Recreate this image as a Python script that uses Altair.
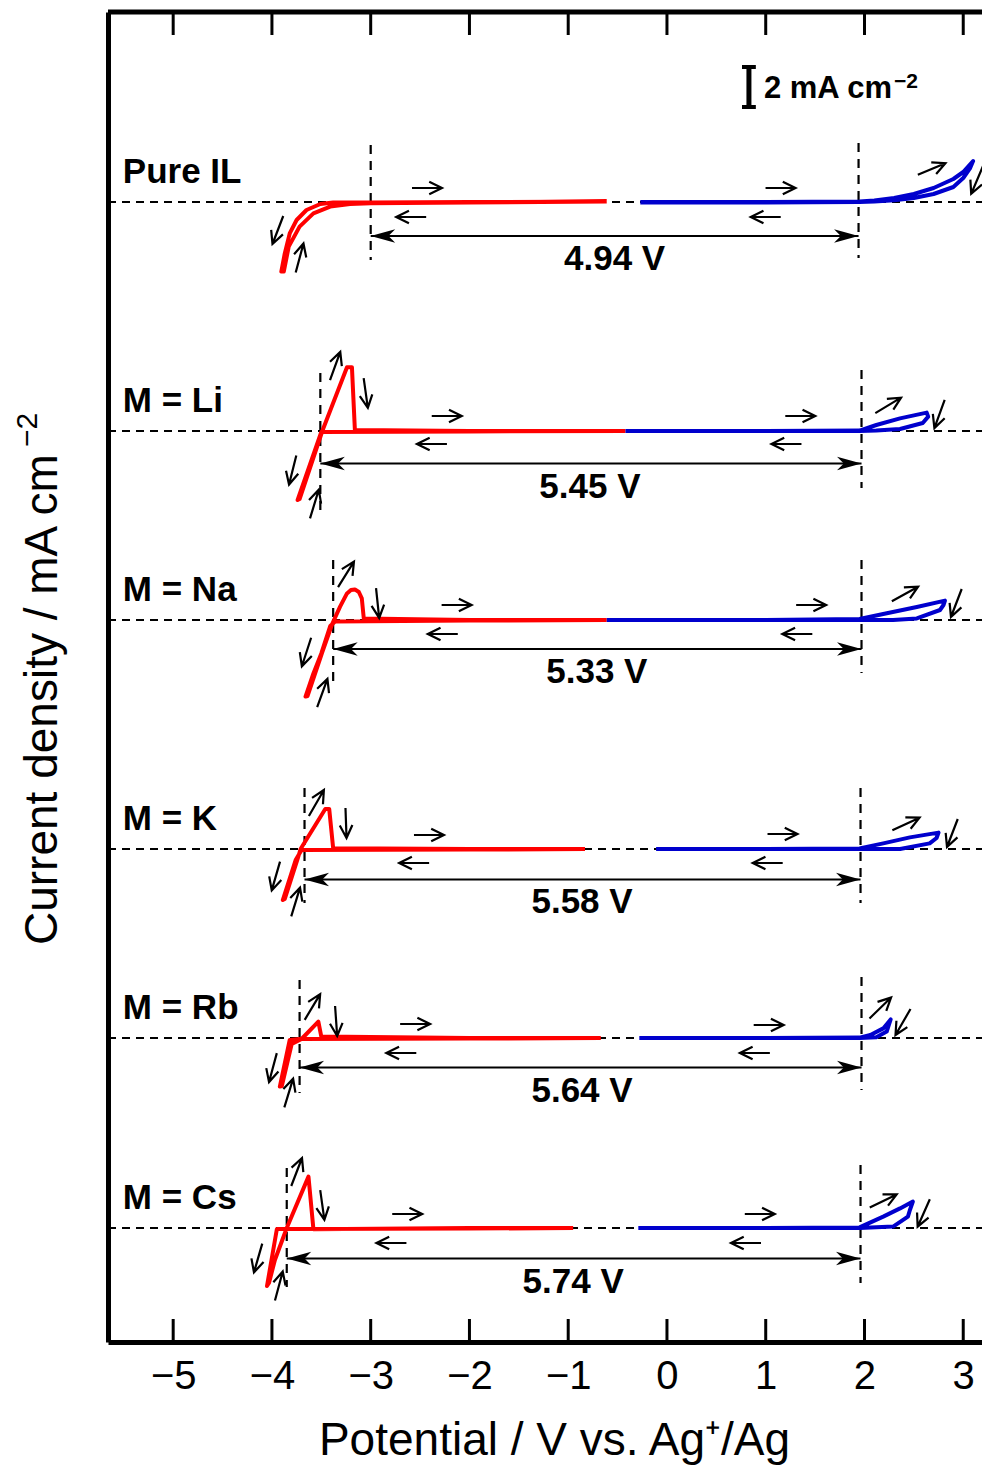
import altair as alt
import pandas as pd

# ---------------- data ----------------
x_ticks = [-5, -4, -3, -2, -1, 0, 1, 2, 3]
x_domain = [-5.66, 3.19]
y_domain = [0, 66.5]

samples = ["Pure IL", "M = Li", "M = Na", "M = K", "M = Rb", "M = Cs"]
baselines = [57.0, 45.55, 36.1, 24.65, 15.2, 5.7]          # vertical offset of each trace (mA cm-2)
windows = ["4.94 V", "5.45 V", "5.33 V", "5.58 V", "5.64 V", "5.74 V"]

# cathodic (red) and anodic (blue) scans: potential / V, current density / mA cm-2
pure_red_v = [-0.61, -2.0, -3.0, -3.38, -3.51, -3.65, -3.75, -3.82, -3.87, -3.905,
              -3.88, -3.83, -3.72, -3.58, -3.41, -3.21, -3.0, -2.0, -0.61]
pure_red_j = [0.02, 0.0, -0.02, -0.02, -0.10, -0.40, -0.90, -1.57, -2.57, -3.48,
              -3.48, -2.23, -1.23, -0.57, -0.23, -0.10, -0.06, -0.03, 0.02]
pure_blue_v = [-0.27, 1.0, 1.95, 2.10, 2.30, 2.50, 2.70, 2.90, 3.00, 3.10,
               3.07, 3.00, 2.90, 2.70, 2.50, 2.30, 2.10, 1.95, 1.0, -0.27]
pure_blue_j = [0.0, 0.0, 0.02, 0.08, 0.20, 0.40, 0.70, 1.15, 1.50, 2.05,
               1.70, 1.20, 0.75, 0.40, 0.20, 0.09, 0.03, 0.0, -0.02, -0.02]

li_red_v = [-0.42, -2.0, -3.50, -3.74, -3.72, -3.49, -3.24, -3.19, -3.16, -2.0, -0.42]
li_red_j = [0.0, -0.02, -0.05, -3.45, -3.40, 0.0, 3.19, 3.19, 0.05, 0.0, 0.0]
li_blue_v = [-0.42, 1.0, 1.95, 2.12, 2.36, 2.63, 2.645, 2.59, 2.36, 2.12, 1.95, 1.0, -0.42]
li_blue_j = [0.0, 0.0, 0.02, 0.30, 0.63, 0.92, 0.72, 0.40, 0.10, 0.02, 0.0, 0.0, 0.0]

na_red_v = [-0.61, -2.0, -3.36, -3.41, -3.50, -3.58, -3.66, -3.64, -3.49, -3.39, -3.31,
            -3.24, -3.20, -3.16, -3.12, -3.09, -3.07, -2.0, -0.61]
na_red_j = [0.0, -0.03, -0.08, -0.30, -1.67, -2.67, -3.83, -3.80, -1.60, -0.20, 0.67,
            1.33, 1.50, 1.53, 1.40, 1.08, 0.08, 0.0, 0.0]
na_blue_v = [-0.61, 1.0, 1.95, 2.19, 2.53, 2.815, 2.80, 2.765, 2.53, 2.29, 1.95, 1.0, -0.61]
na_blue_j = [0.0, 0.0, 0.05, 0.30, 0.65, 0.97, 0.75, 0.50, 0.08, 0.0, 0.0, 0.0, 0.0]

k_red_v = [-0.83, -2.0, -3.70, -3.76, -3.89, -3.87, -3.74, -3.71, -3.46, -3.42, -3.38, -2.0, -0.83]
k_red_j = [0.0, -0.03, -0.05, -0.55, -2.55, -2.50, -0.50, 0.0, 2.0, 2.0, 0.04, 0.0, 0.0]
k_blue_v = [-0.11, 1.0, 1.95, 2.19, 2.46, 2.75, 2.73, 2.66, 2.36, 1.95, 1.0, -0.11]
k_blue_j = [0.0, 0.0, 0.03, 0.28, 0.58, 0.82, 0.55, 0.28, 0.0, 0.0, 0.0, 0.0]

rb_red_v = [-0.67, -2.0, -3.72, -3.82, -3.92, -3.90, -3.80, -3.70, -3.53, -3.50, -2.0, -0.67]
rb_red_j = [0.0, -0.03, -0.05, -0.10, -2.43, -2.40, -0.30, -0.05, 0.82, 0.07, 0.0, 0.0]
rb_blue_v = [-0.28, 1.0, 1.95, 2.06, 2.19, 2.265, 2.225, 2.12, 1.95, 1.0, -0.28]
rb_blue_j = [0.0, 0.0, 0.02, 0.15, 0.48, 0.93, 0.32, 0.04, 0.0, 0.0, 0.0]

cs_red_v = [-0.95, -2.0, -3.85, -3.95, -4.05, -4.03, -3.97, -3.85, -3.63, -3.58, -2.0, -0.95]
cs_red_j = [0.0, -0.03, -0.05, -0.05, -2.90, -2.75, -1.60, 0.0, 2.57, -0.06, 0.0, 0.0]
cs_blue_v = [-0.29, 1.0, 1.95, 2.19, 2.36, 2.49, 2.46, 2.44, 2.29, 1.95, 1.0, -0.29]
cs_blue_j = [0.0, 0.0, 0.03, 0.57, 0.98, 1.32, 0.90, 0.57, 0.07, 0.0, 0.0, 0.0]

# electrochemical window limits (dashed verticals) and span arrows
lim_cat_v = [-3.00, -3.51, -3.38, -3.67, -3.72, -3.85]
lim_cat_top = [2.85, 2.90, 3.00, 3.05, 2.90, 3.00]
lim_cat_bot = [-2.90, -4.30, -3.25, -2.70, -2.75, -2.95]
lim_an_v = [1.94, 1.97, 1.97, 1.96, 1.97, 1.96]
lim_an_top = [2.95, 3.05, 3.00, 3.05, 3.05, 3.15]
lim_an_bot = [-2.80, -2.85, -2.65, -2.70, -2.60, -2.75]
span_j = [-1.70, -1.62, -1.45, -1.52, -1.47, -1.52]
win_label_v = [-0.53, -0.78, -0.71, -0.86, -0.86, -0.95]
win_label_j = [-3.40, -3.37, -3.15, -3.20, -3.18, -3.27]
name_label_v = -5.51
name_label_j = 0.93

# scan-direction arrows: (potential, current offset, direction angle in degrees clockwise)
pure_arrows = [(-2.43, 0.70, 0), (-2.59, -0.75, 180), (-3.94, -1.40, 111), (-3.72, -2.80, 285),
               (1.15, 0.70, 0), (1.00, -0.75, 180), (2.68, 1.65, 337), (3.14, 1.10, 113)]
li_arrows = [(-3.36, 3.25, 290), (-3.05, 1.90, 82), (-2.23, 0.75, 0), (-2.38, -0.65, 180),
             (-3.79, -1.95, 104), (-3.57, -3.65, 287), (1.35, 0.75, 0), (1.21, -0.65, 180),
             (2.24, 1.28, 329), (2.76, 0.85, 110)]
na_arrows = [(-3.25, 2.28, 302), (-2.93, 0.85, 84), (-2.13, 0.75, 0), (-2.27, -0.70, 180),
             (-3.65, -1.60, 108), (-3.49, -3.65, 290), (1.46, 0.75, 0), (1.32, -0.70, 180),
             (2.41, 1.30, 331), (2.93, 0.85, 111)]
k_arrows = [(-3.55, 2.30, 300), (-3.25, 1.30, 88), (-2.41, 0.70, 0), (-2.56, -0.70, 180),
            (-3.96, -1.35, 106), (-3.76, -2.65, 287), (1.17, 0.75, 0), (1.02, -0.70, 180),
            (2.42, 1.25, 335), (2.89, 0.80, 111)]
rb_arrows = [(-3.59, 1.55, 301), (-3.35, 0.85, 86), (-2.55, 0.70, 0), (-2.69, -0.75, 180),
             (-3.99, -1.48, 105), (-3.83, -2.75, 287), (1.03, 0.65, 0), (0.89, -0.75, 180),
             (2.16, 1.50, 316), (2.39, 0.80, 120)]
cs_arrows = [(-3.75, 2.80, 291), (-3.49, 1.15, 82), (-2.63, 0.70, 0), (-2.79, -0.75, 180),
             (-4.14, -1.50, 106), (-3.93, -2.90, 285), (0.94, 0.70, 0), (0.80, -0.75, 180),
             (2.19, 1.35, 334), (2.60, 0.75, 114)]

# scale bar: 2 mA cm-2
scale_bar_v = 0.83
scale_bar_y = [61.75, 63.75]
scale_text = "2 mA cm"
scale_sup = "\u22122"
tick_len = 1.15

# axis titles (y title drawn as text so that the superscript can be sized)
y_title = "Current density / mA cm"
y_title_sup = "\u22122"
x_title = "Potential / V vs. Ag\u207a/Ag"

# ---------------- tables ----------------
RED, BLUE = "#ff0000", "#0000cd"
curve_list = [
    (0, RED, pure_red_v, pure_red_j), (0, BLUE, pure_blue_v, pure_blue_j),
    (1, RED, li_red_v, li_red_j), (1, BLUE, li_blue_v, li_blue_j),
    (2, RED, na_red_v, na_red_j), (2, BLUE, na_blue_v, na_blue_j),
    (3, RED, k_red_v, k_red_j), (3, BLUE, k_blue_v, k_blue_j),
    (4, RED, rb_red_v, rb_red_j), (4, BLUE, rb_blue_v, rb_blue_j),
    (5, RED, cs_red_v, cs_red_j), (5, BLUE, cs_blue_v, cs_blue_j),
]
rows = []
for n, (si, col, vs, js) in enumerate(curve_list):
    for i, (v, j) in enumerate(zip(vs, js)):
        rows.append({"key": n, "col": col, "idx": i, "v": v, "y": baselines[si] + j})
df_curves = pd.DataFrame(rows)

df_base = pd.DataFrame({"v": [x_domain[0]] * 6, "v2": [x_domain[1]] * 6, "y": baselines})

vrows = []
for i in range(6):
    vrows.append({"v": lim_cat_v[i], "y": baselines[i] + lim_cat_top[i], "y2": baselines[i] + lim_cat_bot[i]})
    vrows.append({"v": lim_an_v[i], "y": baselines[i] + lim_an_top[i], "y2": baselines[i] + lim_an_bot[i]})
df_vdash = pd.DataFrame(vrows)

df_span = pd.DataFrame({"v": lim_cat_v, "v2": lim_an_v,
                        "y": [b + s for b, s in zip(baselines, span_j)]})
hrows = []
for i in range(6):
    hrows.append({"v": lim_an_v[i], "y": baselines[i] + span_j[i], "ang": 0})
    hrows.append({"v": lim_cat_v[i], "y": baselines[i] + span_j[i], "ang": 180})
df_heads = pd.DataFrame(hrows)

arows = []
for si, arr in enumerate([pure_arrows, li_arrows, na_arrows, k_arrows, rb_arrows, cs_arrows]):
    for v, j, a in arr:
        arows.append({"v": v, "y": baselines[si] + j, "ang": a})
df_arrows = pd.DataFrame(arows)

df_names = pd.DataFrame({"v": [name_label_v] * 6, "y": [b + name_label_j for b in baselines], "t": samples})
df_wins = pd.DataFrame({"v": win_label_v, "y": [b + j for b, j in zip(baselines, win_label_j)], "t": windows})

df_sbar = pd.DataFrame({"v": [scale_bar_v], "y": [scale_bar_y[0]], "y2": [scale_bar_y[1]]})
df_scaps = pd.DataFrame({"v": [scale_bar_v - 0.07] * 2, "v2": [scale_bar_v + 0.07] * 2, "y": scale_bar_y})
df_stext = pd.DataFrame({"v": [0.982], "y": [62.19], "t": [scale_text]})
df_ssup = pd.DataFrame({"v": [2.30], "y": [62.70], "t": [scale_sup]})

df_ytitle = pd.DataFrame({"v": [-6.18], "y": [19.85], "t": [y_title]})
df_ysup = pd.DataFrame({"v": [-6.38], "y": [44.75], "t": [y_title_sup]})

df_top = pd.DataFrame({"v": [x_domain[0]], "v2": [x_domain[1]], "y": [y_domain[1]]})
df_ticks = pd.DataFrame({"v": x_ticks * 2,
                         "y": [y_domain[0]] * len(x_ticks) + [y_domain[1]] * len(x_ticks),
                         "y2": [y_domain[0] + tick_len] * len(x_ticks) + [y_domain[1] - tick_len] * len(x_ticks)})

# ---------------- encodings ----------------
FONT = "Liberation Sans"
xs = alt.Scale(domain=x_domain, nice=False, zero=False)
ys = alt.Scale(domain=y_domain, nice=False, zero=False)

x_axis = alt.Axis(values=x_ticks, tickSize=0, domainWidth=5, domainColor="black", grid=False,
                  labelFontSize=40, labelFont=FONT, labelColor="black", labelPadding=14,
                  labelFlush=False, labelOverlap=False,
                  title=x_title, titleFont=FONT, titleFontSize=46,
                  titleFontWeight="normal", titleColor="black",
                  titleX=446, titleY=112, titleAlign="center", titleBaseline="alphabetic")
y_axis = alt.Axis(ticks=False, labels=False, domainWidth=5, domainColor="black", grid=False,
                  title="")


def X(f="v"):
    return alt.X(f"{f}:Q", scale=xs, axis=x_axis)


def Y(f="y"):
    return alt.Y(f"{f}:Q", scale=ys, axis=y_axis)


curves = alt.Chart(df_curves).mark_line(strokeWidth=4, strokeJoin="round").encode(
    x=X(), y=Y(),
    color=alt.Color("col:N", scale=None),
    detail="key:N",
    order="idx:Q",
)

base_lines = alt.Chart(df_base).mark_rule(color="black", strokeWidth=2, strokeDash=[8, 6]).encode(
    x=X(), x2="v2:Q", y=Y())
vdash = alt.Chart(df_vdash).mark_rule(color="black", strokeWidth=2.2, strokeDash=[9, 7]).encode(
    x=X(), y=Y(), y2="y2:Q")
span = alt.Chart(df_span).mark_rule(color="black", strokeWidth=2).encode(x=X(), x2="v2:Q", y=Y())

HEAD = "M 0 0 L -2 -0.55 L -1.45 0 L -2 0.55 Z"
heads = alt.Chart(df_heads).mark_point(shape=HEAD, filled=True, color="black", opacity=1,
                                       size=600, strokeWidth=0).encode(
    x=X(), y=Y(), angle=alt.Angle("ang:Q", scale=None))

SMALL = "M -1 0 L 1 0 M 0.15 -0.42 L 1 0 L 0.15 0.42"
arrows = alt.Chart(df_arrows).mark_point(shape=SMALL, filled=False, color="black", opacity=1,
                                         size=900, strokeWidth=2.2).encode(
    x=X(), y=Y(), angle=alt.Angle("ang:Q", scale=None))

bold = dict(font=FONT, fontWeight="bold", color="black", baseline="alphabetic")
names = alt.Chart(df_names).mark_text(fontSize=35, align="left", **bold).encode(x=X(), y=Y(), text="t:N")
wins = alt.Chart(df_wins).mark_text(fontSize=35, align="center", **bold).encode(x=X(), y=Y(), text="t:N")

sbar = alt.Chart(df_sbar).mark_rule(color="black", strokeWidth=5).encode(x=X(), y=Y(), y2="y2:Q")
scaps = alt.Chart(df_scaps).mark_rule(color="black", strokeWidth=4).encode(x=X(), x2="v2:Q", y=Y())
stext = alt.Chart(df_stext).mark_text(fontSize=31, align="left", **bold).encode(x=X(), y=Y(), text="t:N")
ssup = alt.Chart(df_ssup).mark_text(fontSize=21, align="left", **bold).encode(x=X(), y=Y(), text="t:N")

plain = dict(font=FONT, color="black", baseline="alphabetic", align="left", angle=270)
ytitle = alt.Chart(df_ytitle).mark_text(fontSize=46, **plain).encode(x=X(), y=Y(), text="t:N")
ysup = alt.Chart(df_ysup).mark_text(fontSize=30, **plain).encode(x=X(), y=Y(), text="t:N")

top_line = alt.Chart(df_top).mark_rule(color="black", strokeWidth=5).encode(x=X(), x2="v2:Q", y=Y())
ticks = alt.Chart(df_ticks).mark_rule(color="black", strokeWidth=3).encode(x=X(), y=Y(), y2="y2:Q")

chart = alt.layer(
    base_lines, vdash, span, heads, curves, arrows, names, wins, sbar, scaps, stext, ssup,
    ytitle, ysup, top_line, ticks
).properties(
    width=874, height=1330,
    padding={"left": 100, "top": 4, "right": 0, "bottom": 124},
    autosize=alt.AutoSizeParams(type="none"),
).configure_view(stroke="transparent").configure_axis(labelFont=FONT, titleFont=FONT)

chart.save("out.html", embed_options={"renderer": "svg", "actions": False})
